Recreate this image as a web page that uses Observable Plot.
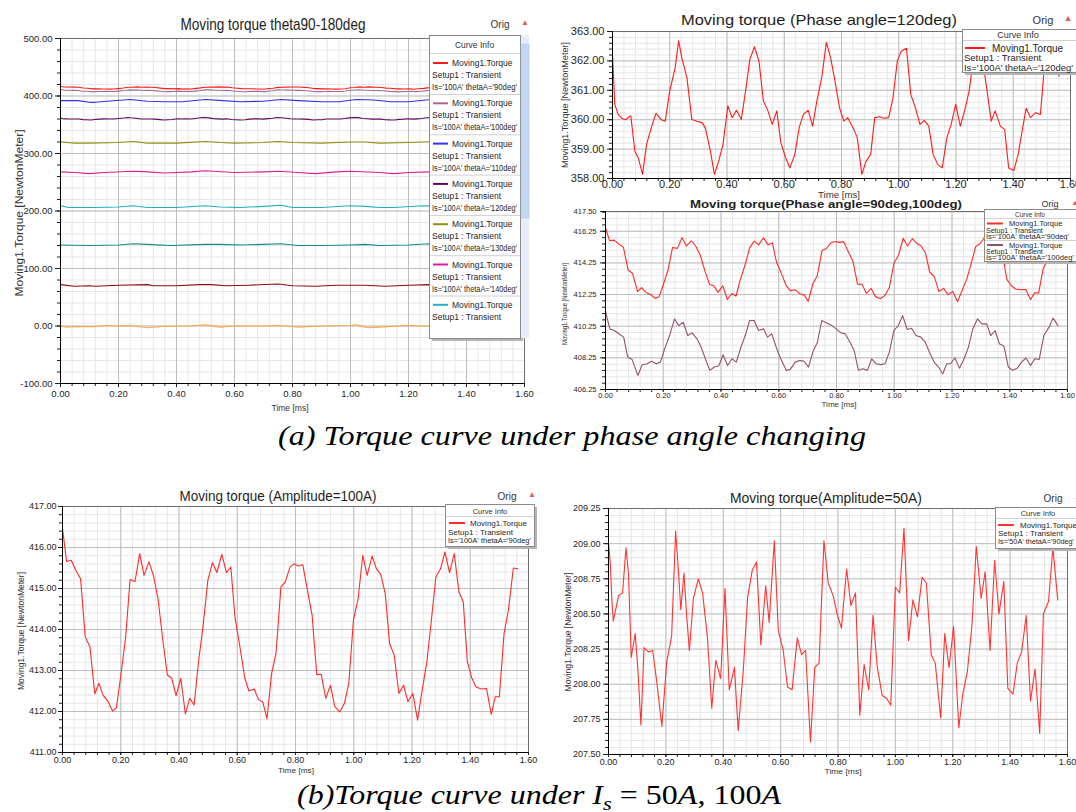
<!DOCTYPE html>
<html><head><meta charset="utf-8">
<script src="https://cdn.jsdelivr.net/npm/d3@7"></script>
<script src="https://cdn.jsdelivr.net/npm/@observablehq/plot@0.6"></script>
<style>
html,body{margin:0;padding:0;background:#fff;overflow:hidden;}
#fig{position:relative;width:1076px;height:812px;overflow:hidden;background:#fff;}
</style></head><body><div id="fig"></div>
<script>
// ---------------- DATA ----------------
const timeTicks = [0, 0.2, 0.4, 0.6, 0.8, 1.0, 1.2, 1.4, 1.6];
const yTicksA = [-100, 0, 100, 200, 300, 400, 500];
const yTicksB = [358, 359, 360, 361, 362, 363];
const yTicksC = [406.25, 408.25, 410.25, 412.25, 414.25, 416.25, 417.5];
const yTicksD = [411, 412, 413, 414, 415, 416, 417];
const yTicksE = [207.5, 207.75, 208, 208.25, 208.5, 208.75, 209, 209.25];

// Is=100A, thetaA=90deg  [time ms, torque N*m]
const torque90 = [[0,416.46],[0.014,415.66],[0.03,415.69],[0.046,415.44],[0.062,415.24],[0.078,413.82],[0.094,413.58],[0.111,412.43],[0.125,412.69],[0.139,412.40],[0.157,412.24],[0.172,412.01],[0.185,412.09],[0.199,412.81],[0.217,413.82],[0.232,415.22],[0.249,415.17],[0.265,415.85],[0.28,415.32],[0.297,415.65],[0.312,415.32],[0.328,414.75],[0.345,413.70],[0.36,412.89],[0.375,412.81],[0.39,412.39],[0.406,412.81],[0.422,411.94],[0.437,412.32],[0.452,412.16],[0.467,413.21],[0.483,414.10],[0.499,415.20],[0.515,415.63],[0.53,415.39],[0.547,415.83],[0.563,415.39],[0.578,415.52],[0.592,414.31],[0.61,413.54],[0.626,412.81],[0.64,412.50],[0.658,412.55],[0.673,412.29],[0.688,412.23],[0.702,411.82],[0.718,412.93],[0.733,413.42],[0.75,415.04],[0.765,415.16],[0.781,415.52],[0.795,415.60],[0.809,415.55],[0.825,415.58],[0.84,414.99],[0.857,414.35],[0.873,412.90],[0.888,412.91],[0.904,412.32],[0.92,412.64],[0.935,412.12],[0.952,411.99],[0.968,412.20],[0.983,412.69],[0.999,414.23],[1.015,414.75],[1.031,415.81],[1.046,415.32],[1.063,415.79],[1.078,415.48],[1.093,415.34],[1.108,414.88],[1.123,413.66],[1.139,413.37],[1.155,412.44],[1.171,412.64],[1.186,412.24],[1.203,412.44],[1.219,411.79],[1.234,412.48],[1.251,413.21],[1.266,414.19],[1.282,415.28],[1.298,415.48],[1.313,415.89],[1.329,415.39],[1.345,415.85],[1.361,414.92],[1.376,414.67],[1.39,413.21],[1.405,412.82],[1.42,412.60],[1.438,412.55],[1.456,412.56],[1.472,411.93],[1.486,412.36],[1.5,412.36],[1.516,413.90],[1.531,414.47],[1.548,415.50],[1.563,415.48]];

// Is=100A, thetaA=100deg
const torque100 = [[0,411.18],[0.015,410.08],[0.031,409.98],[0.046,409.77],[0.063,409.56],[0.077,408.30],[0.092,408.15],[0.112,407.14],[0.127,407.81],[0.144,407.88],[0.159,408.03],[0.176,407.88],[0.19,407.98],[0.207,408.93],[0.222,409.66],[0.239,410.71],[0.254,410.29],[0.269,410.50],[0.285,409.66],[0.3,409.83],[0.317,409.45],[0.331,408.93],[0.346,408.19],[0.361,407.46],[0.377,407.67],[0.392,407.73],[0.407,408.45],[0.423,407.77],[0.438,408.19],[0.453,407.98],[0.469,408.93],[0.484,409.66],[0.499,410.61],[0.515,410.61],[0.53,409.98],[0.548,410.08],[0.561,409.56],[0.576,409.77],[0.594,408.78],[0.607,408.19],[0.626,407.46],[0.64,407.52],[0.657,407.98],[0.672,408.09],[0.688,408.03],[0.703,407.67],[0.72,408.72],[0.734,409.24],[0.749,410.61],[0.766,410.46],[0.784,410.29],[0.799,410.08],[0.815,409.83],[0.83,409.77],[0.847,409.24],[0.861,408.72],[0.876,407.46],[0.891,407.56],[0.907,407.46],[0.922,408.19],[0.937,407.88],[0.953,407.82],[0.968,407.88],[0.983,408.61],[0.999,409.98],[1.014,410.29],[1.029,410.92],[1.045,410.04],[1.06,410.12],[1.075,409.66],[1.092,409.56],[1.107,409.24],[1.122,408.61],[1.138,407.98],[1.153,407.67],[1.168,407.25],[1.182,407.88],[1.195,407.88],[1.21,408.24],[1.226,407.60],[1.242,408.19],[1.257,408.93],[1.272,410.08],[1.288,410.71],[1.303,410.40],[1.32,410.40],[1.334,409.66],[1.349,409.98],[1.364,409.14],[1.38,408.99],[1.395,407.67],[1.41,407.46],[1.426,407.60],[1.441,407.98],[1.456,408.24],[1.472,407.77],[1.487,408.19],[1.502,408.15],[1.518,409.66],[1.536,410.19],[1.55,410.76],[1.567,410.29]];

// Is=100A, thetaA=120deg
const torque120 = [[0,362.23],[0.008,360.52],[0.02,360.18],[0.032,360.05],[0.047,360.00],[0.058,360.10],[0.064,360.13],[0.078,358.93],[0.09,358.70],[0.105,358.14],[0.119,359.16],[0.137,359.78],[0.152,360.22],[0.169,360.01],[0.184,359.95],[0.2,360.98],[0.219,361.77],[0.231,362.68],[0.242,362.11],[0.26,361.43],[0.277,360.01],[0.295,359.95],[0.313,359.90],[0.324,359.73],[0.342,358.93],[0.356,358.14],[0.371,358.59],[0.386,359.16],[0.403,360.47],[0.418,360.07],[0.433,360.32],[0.45,360.01],[0.465,360.98],[0.48,362.06],[0.496,362.48],[0.512,361.98],[0.527,360.64],[0.543,360.30],[0.558,359.84],[0.574,360.30],[0.588,359.22],[0.605,358.70],[0.62,358.36],[0.637,358.82],[0.652,359.73],[0.667,360.18],[0.684,360.32],[0.699,359.78],[0.714,360.64],[0.731,361.43],[0.747,362.63],[0.763,362.06],[0.777,361.32],[0.793,360.41],[0.808,359.95],[0.822,360.07],[0.84,359.73],[0.855,359.39],[0.871,358.14],[0.886,358.59],[0.902,358.82],[0.916,360.07],[0.933,360.10],[0.948,360.05],[0.965,360.07],[0.98,360.75],[0.995,362.00],[1.009,362.34],[1.027,362.43],[1.042,360.86],[1.058,360.41],[1.074,359.84],[1.089,359.98],[1.105,359.78],[1.12,358.82],[1.136,358.48],[1.152,358.36],[1.168,359.39],[1.183,359.84],[1.199,360.52],[1.215,359.78],[1.23,360.30],[1.246,360.98],[1.261,362.11],[1.279,362.68],[1.302,361.43],[1.323,359.95],[1.337,360.30],[1.355,359.78],[1.37,359.67],[1.384,358.36],[1.402,358.27],[1.417,358.82],[1.431,359.61],[1.445,360.39],[1.46,360.07],[1.478,360.24],[1.495,360.18],[1.507,361.60],[1.522,362.30],[1.538,361.80],[1.56,361.49]];

const torque110 = [[0,392],[0.06,392],[0.1,389],[0.12,389],[0.16,391],[0.24,394],[0.3,391],[0.36,390],[0.42,390],[0.5,394],[0.56,392],[0.62,390],[0.7,391],[0.76,394],[0.82,392],[0.9,390],[0.96,390],[1.02,394],[1.08,393],[1.14,390],[1.2,390],[1.26,393],[1.3,394],[1.36,391],[1.42,390],[1.5,391],[1.56,394]];
const torque130 = [[0,320],[0.05,318],[0.1,318],[0.2,319],[0.25,321],[0.3,318],[0.4,318],[0.5,321],[0.55,319],[0.6,318],[0.7,319],[0.75,321],[0.8,319],[0.9,318],[1.0,320],[1.05,320],[1.1,318],[1.2,319],[1.25,320],[1.3,321],[1.4,319],[1.5,320],[1.56,321]];
const torque140 = [[0,268],[0.05,267],[0.1,265],[0.15,267],[0.25,269],[0.3,268],[0.36,266],[0.45,268],[0.5,270],[0.6,267],[0.7,268],[0.75,269],[0.82,267],[0.88,265],[0.95,268],[1.0,269],[1.1,267],[1.15,265],[1.2,267],[1.27,268],[1.35,269],[1.45,266],[1.56,268]];
const torque150 = [[0,209],[0.03,206],[0.12,206],[0.2,207],[0.25,209],[0.3,206],[0.4,206],[0.5,209],[0.55,207],[0.62,206],[0.7,208],[0.76,210],[0.8,206],[0.9,206],[1.0,209],[1.05,208],[1.1,206],[1.15,206],[1.25,209],[1.3,209],[1.4,206],[1.5,208],[1.56,209]];
const torque160 = [[0,141],[0.1,140],[0.2,141],[0.25,143],[0.3,142],[0.38,140],[0.5,142],[0.55,142],[0.62,141],[0.7,142],[0.76,143],[0.82,140],[0.9,140],[1.0,141],[1.05,142],[1.1,140],[1.2,141],[1.27,143],[1.35,142],[1.45,140],[1.56,142]];
const torque170 = [[0,72],[0.05,69],[0.1,70],[0.12,69],[0.2,71],[0.3,72],[0.32,70],[0.4,70],[0.48,72],[0.52,72],[0.57,70],[0.65,71],[0.75,73],[0.8,70],[0.88,69],[0.95,71],[1.05,71],[1.12,69],[1.2,71],[1.27,72],[1.35,71],[1.45,70],[1.56,72]];
const torque180 = [[0,0],[0.02,-2],[0.06,-1],[0.12,-1],[0.16,1],[0.2,0],[0.24,1],[0.3,-3],[0.35,-1],[0.45,0],[0.5,2],[0.55,-2],[0.6,0],[0.7,0],[0.75,1],[0.8,-1],[0.82,-2],[0.9,0],[1.0,1],[1.02,2],[1.06,-3],[1.1,-2],[1.2,1],[1.25,0],[1.35,1],[1.45,-1],[1.56,0]];

// Is=50A, thetaA=90deg
const torque50A = [[0,209.01],[0.006,208.87],[0.012,208.59],[0.017,208.45],[0.026,208.54],[0.035,208.63],[0.049,208.65],[0.061,208.97],[0.07,208.78],[0.079,208.19],[0.093,208.36],[0.102,208.12],[0.113,207.71],[0.124,208.26],[0.139,208.23],[0.154,208.24],[0.168,208.02],[0.186,207.70],[0.203,208.16],[0.22,208.34],[0.234,209.09],[0.244,208.80],[0.252,208.53],[0.263,208.79],[0.273,208.47],[0.282,208.24],[0.296,208.61],[0.313,208.75],[0.328,208.65],[0.345,208.33],[0.36,207.83],[0.374,208.17],[0.391,208.04],[0.406,208.68],[0.421,207.96],[0.439,208.12],[0.452,207.67],[0.47,208.10],[0.485,208.62],[0.501,208.81],[0.516,208.87],[0.531,208.28],[0.548,208.70],[0.56,208.44],[0.578,209.02],[0.592,208.38],[0.609,208.24],[0.624,207.98],[0.64,207.96],[0.658,208.33],[0.673,208.21],[0.687,208.24],[0.704,207.59],[0.719,208.12],[0.734,208.15],[0.751,209.02],[0.766,208.72],[0.783,208.63],[0.798,208.49],[0.812,208.40],[0.83,208.82],[0.845,208.56],[0.861,208.65],[0.876,207.78],[0.891,208.14],[0.907,207.96],[0.922,208.49],[0.937,208.12],[0.954,207.92],[0.969,207.90],[0.984,207.85],[1.0,208.69],[1.015,208.65],[1.03,209.11],[1.046,208.31],[1.061,208.60],[1.077,208.48],[1.093,208.76],[1.108,208.72],[1.125,208.21],[1.139,208.15],[1.158,207.76],[1.172,208.36],[1.187,208.12],[1.203,208.41],[1.221,207.69],[1.235,207.93],[1.251,208.09],[1.267,208.42],[1.282,208.98],[1.299,208.61],[1.313,208.80],[1.33,208.24],[1.346,208.88],[1.361,208.50],[1.378,208.73],[1.392,207.97],[1.41,207.93],[1.425,208.15],[1.44,208.23],[1.456,208.49],[1.471,207.88],[1.487,208.11],[1.503,207.65],[1.516,208.50],[1.534,208.59],[1.549,208.97],[1.566,208.60]];

const anglesA = ["90deg","100deg","110deg","120deg","130deg","140deg","150deg","160deg","170deg","180deg"];
const colorsA = ["#ff1a1a","#a86a8a","#3030ee","#5c0a5c","#8f8f10","#e8189c","#22aec6","#138a8a","#8e0c0c","#ffa646"];
const seriesA = [torque90, torque100, torque110, torque120, torque130, torque140, torque150, torque160, torque170, torque180];

// ---------------- DRAWING ----------------
const FONT = "'Liberation Sans', Arial, sans-serif";
const SERIF = "'Liberation Serif', 'Times New Roman', serif";
const fig = document.getElementById("fig");
const fmt2 = d => d.toFixed(2);

function panel(p) {
  const minorX = d3.range(0, 1.6 + 1e-9, 0.04);
  const minorY = d3.range(p.yDomain[0], p.yDomain[1] + 1e-9, p.yMinor);
  const lines = p.series.map(s => Plot.line(s.data, {x: d => d[0], y: d => d[1], stroke: s.color, strokeWidth: 1.1, clip: true}));
  const chart = Plot.plot({
    width: p.svgW, height: p.svgH,
    marginLeft: p.L - p.svgX, marginTop: p.T - p.svgY,
    marginRight: p.svgX + p.svgW - p.R, marginBottom: p.svgY + p.svgH - p.B,
    style: {fontFamily: FONT, fontSize: p.fs + "px", background: "transparent", color: "#1e1e1e", overflow: "visible"},
    x: {domain: [0, 1.6]},
    y: {domain: p.yDomain},
    marks: [
      Plot.gridX(minorX, {stroke: "#e6e6e6", strokeOpacity: 1}),
      Plot.gridY(minorY, {stroke: "#e6e6e6", strokeOpacity: 1}),
      Plot.gridX(timeTicks, {stroke: "#bebebe", strokeOpacity: 1}),
      Plot.gridY(p.yTicks, {stroke: "#bebebe", strokeOpacity: 1}),
      Plot.frame({stroke: "#6e6e6e"}),
      ...lines,
      Plot.axisX(minorX, {tickSize: 3, fill: "none", label: null}),
      Plot.axisX(timeTicks, {tickSize: p.xTick, tickPadding: p.xPad, tickFormat: fmt2, label: null}),
      Plot.axisY(minorY, {tickSize: 3, fill: "none", label: null}),
      Plot.axisY(p.yTicks, {tickSize: p.yTick, tickPadding: p.yPad, tickFormat: fmt2, label: null}),
      Plot.ruleX([0], {stroke: "#000"}),
      Plot.ruleY([p.yDomain[0]], {stroke: "#000"})
    ]
  });
  chart.style.position = "absolute";
  chart.style.left = p.svgX + "px";
  chart.style.top = p.svgY + "px";
  chart.style.maxWidth = "none";
  fig.appendChild(chart);
}

panel({svgX: 0, svgY: 30, svgW: 545, svgH: 385, L: 60, T: 38, R: 524, B: 383, fs: 9.5,
  yDomain: [-100, 500], yTicks: yTicksA, yMinor: 20, xTick: 4, xPad: 3, yTick: 5, yPad: 3,
  series: seriesA.map((d, i) => ({data: d, color: colorsA[i]})).reverse()});
panel({svgX: 548, svgY: 10, svgW: 528, svgH: 190, L: 612, T: 31, R: 1070, B: 178, fs: 11,
  yDomain: [358, 363], yTicks: yTicksB, yMinor: 0.2, xTick: 2, xPad: 0, yTick: 5, yPad: 3,
  series: [{data: torque120, color: "#ff1a1a"}]});
panel({svgX: 548, svgY: 200, svgW: 528, svgH: 210, L: 605, T: 211, R: 1067, B: 389, fs: 7.5,
  yDomain: [406.25, 417.5], yTicks: yTicksC, yMinor: 0.4, xTick: 2, xPad: 1, yTick: 5, yPad: 4,
  series: [{data: torque100, color: "#94506f"}, {data: torque90, color: "#ff2a2a"}]});
panel({svgX: 0, svgY: 490, svgW: 545, svgH: 290, L: 62, T: 506, R: 528, B: 752, fs: 9,
  yDomain: [411, 417], yTicks: yTicksD, yMinor: 0.2, xTick: 3, xPad: 1, yTick: 4, yPad: 2,
  series: [{data: torque90, color: "#ff2a2a"}]});
panel({svgX: 548, svgY: 490, svgW: 528, svgH: 290, L: 608, T: 508, R: 1067, B: 754, fs: 9,
  yDomain: [207.5, 209.25], yTicks: yTicksE, yMinor: 0.05, xTick: 3, xPad: 1, yTick: 5, yPad: 3,
  series: [{data: torque50A, color: "#ff3333"}]});

// ---------------- OVERLAY (titles, legends, captions) ----------------
const ov = d3.select(fig).append("svg").attr("width", 1076).attr("height", 812)
  .style("position", "absolute").style("left", "0px").style("top", "0px");

function T(x, y, s, o = {}) {
  const t = ov.append("text").attr("x", x).attr("y", y)
    .attr("font-family", o.family || FONT).attr("font-size", o.size || 9)
    .attr("fill", o.fill || "#1e1e1e").attr("text-anchor", o.anchor || "start")
    .attr("dominant-baseline", o.baseline || "central");
  if (o.weight) t.attr("font-weight", o.weight);
  if (o.style) t.attr("font-style", o.style);
  if (o.len) t.attr("textLength", o.len).attr("lengthAdjust", "spacingAndGlyphs");
  if (o.rotate) t.attr("transform", `rotate(${o.rotate},${x},${y})`);
  t.text(s);
  return t;
}

// panel titles
T(273, 24, "Moving torque theta90-180deg", {size: 17, anchor: "middle", len: 185});
T(819, 20, "Moving torque (Phase angle=120deg)", {size: 14.5, anchor: "middle", len: 276});
T(826, 204, "Moving torque(Phase angle=90deg,100deg)", {size: 11.5, weight: "bold", anchor: "middle", len: 272});
T(278, 496, "Moving torque (Amplitude=100A)", {size: 14, anchor: "middle", len: 197});
T(826, 498, "Moving torque(Amplitude=50A)", {size: 14, anchor: "middle", len: 192});

// "Orig" + marker
function orig(x, y, s) {
  T(x, y, "Orig", {size: s, anchor: "middle", fill: "#333"});
  T(x + 25, y - 2, "\u25B2", {size: s * 0.8, anchor: "middle", fill: "#e05a5a"});
}
orig(500, 24, 10); orig(1043, 20, 11); orig(1050, 204, 9); orig(507, 496, 10); orig(1053, 498, 10);

// axis titles
const YLAB = "Moving1.Torque [NewtonMeter]";
T(19, 213, YLAB, {size: 10.5, anchor: "middle", rotate: -90, len: 167, fill: "#333"});
T(565, 105, YLAB, {size: 9, anchor: "middle", rotate: -90, len: 126, fill: "#333"});
T(564, 304, YLAB, {size: 7, anchor: "middle", rotate: -90, len: 82, fill: "#333"});
T(21, 631, YLAB, {size: 8.5, anchor: "middle", rotate: -90, len: 118, fill: "#333"});
T(568, 632, YLAB, {size: 8.5, anchor: "middle", rotate: -90, len: 119, fill: "#333"});
T(290, 407, "Time [ms]", {size: 9.5, anchor: "middle", len: 37, fill: "#333"});
T(839, 194.5, "Time [ms]", {size: 9, anchor: "middle", len: 42, fill: "#333"});
T(839, 404, "Time [ms]", {size: 7, anchor: "middle", len: 35, fill: "#333"});
T(296, 770, "Time [ms]", {size: 8, anchor: "middle", len: 36, fill: "#333"});
T(843, 771, "Time [ms]", {size: 8, anchor: "middle", len: 37, fill: "#333"});

// legends
function legendBox(x, y, w, h) {
  ov.append("rect").attr("x", x + 3).attr("y", y + 3).attr("width", w).attr("height", h).attr("fill", "#b4b4b4");
  ov.append("rect").attr("x", x + 0.5).attr("y", y + 0.5).attr("width", w).attr("height", h)
    .attr("fill", "#fff").attr("stroke", "#8c8c8c");
}
function hline(x1, x2, y, c = "#d0d0d0") {
  ov.append("line").attr("x1", x1).attr("x2", x2).attr("y1", y + 0.5).attr("y2", y + 0.5).attr("stroke", c);
}
function sample(x1, x2, y, color) {
  ov.append("line").attr("x1", x1).attr("x2", x2).attr("y1", y).attr("y2", y).attr("stroke", color).attr("stroke-width", 2);
}

// Panel A legend (scrolled list of curves)
legendBox(429, 35, 91, 303);
ov.append("rect").attr("x", 521).attr("y", 35).attr("width", 8).attr("height", 303).attr("fill", "#e3ecf7");
ov.append("rect").attr("x", 521).attr("y", 44).attr("width", 8).attr("height", 174).attr("fill", "#c3d7f0").attr("stroke", "#a8c2e6").attr("stroke-width", 0.5);
T(474.5, 45, "Curve Info", {size: 8.5, anchor: "middle", fill: "#333"});
hline(430, 520, 53);
for (let k = 0; k < 7; k++) {
  const top = 54 + 40.3 * k;
  sample(433, 448, top + 9, colorsA[k]);
  T(452, top + 9, "Moving1.Torque", {size: 8.5});
  T(432, top + 21, "Setup1 : Transient", {size: 8.5});
  if (k < 6) {
    T(432, top + 33, `Is='100A' thetaA='${anglesA[k]}'`, {size: 8.5, len: 85});
    hline(430, 520, top + 40);
  }
}

// Panel B legend
legendBox(962, 29, 120, 43);
T(1018, 35, "Curve Info", {size: 9, anchor: "middle", fill: "#333"});
hline(963, 1076, 40);
sample(965, 985, 48, "#ff1a1a");
T(992, 48, "Moving1.Torque", {size: 10});
T(964, 57, "Setup1 : Transient", {size: 9.5});
T(964, 67, "Is='100A' thetaA='120deg'", {size: 9.5, len: 109});

// Panel C legend
legendBox(984, 209, 100, 52);
T(1030, 214, "Curve Info", {size: 6.5, anchor: "middle", fill: "#333"});
hline(985, 1076, 218);
sample(987, 1003, 223.5, "#ff2a2a");
T(1009, 223.5, "Moving1.Torque", {size: 7.5});
T(986, 230, "Setup1 : Transient", {size: 7});
T(986, 236.5, "Is='100A' thetaA='90deg'", {size: 7, len: 83});
hline(985, 1076, 240);
sample(987, 1003, 245, "#94506f");
T(1009, 245, "Moving1.Torque", {size: 7.5});
T(986, 251, "Setup1 : Transient", {size: 7});
T(986, 257.5, "Is='100A' thetaA='100deg'", {size: 7, len: 88});

// Panel D legend
legendBox(445, 504, 89, 42);
T(490, 511, "Curve Info", {size: 7.5, anchor: "middle", fill: "#333"});
hline(446, 534, 516);
sample(449, 465, 523, "#ff2a2a");
T(470, 523, "Moving1.Torque", {size: 8});
T(448, 532, "Setup1 : Transient", {size: 8});
T(448, 540, "Is='100A' thetaA='90deg'", {size: 8, len: 83});

// Panel E legend
legendBox(995, 507, 90, 41);
T(1038, 513, "Curve Info", {size: 7.5, anchor: "middle", fill: "#333"});
hline(996, 1076, 518);
sample(998, 1014, 525, "#ff3333");
T(1020, 525, "Moving1.Torque", {size: 8});
T(998, 533, "Setup1 : Transient", {size: 8});
T(998, 541, "Is='50A' thetaA='90deg'", {size: 8, len: 76});

// captions
T(572, 445, "(a) Torque curve under phase angle changing",
  {family: SERIF, style: "italic", size: 28, anchor: "middle", baseline: "alphabetic", len: 588, fill: "#000"});
const cb = ov.append("text").attr("x", 297).attr("y", 804)
  .attr("font-family", SERIF).attr("font-size", 27).attr("fill", "#000")
  .attr("textLength", 484).attr("lengthAdjust", "spacingAndGlyphs");
cb.append("tspan").attr("font-style", "italic").text("(b)Torque curve under ");
cb.append("tspan").attr("font-style", "italic").text("I");
cb.append("tspan").attr("font-style", "italic").attr("font-size", 19).attr("dy", 6).text("s");
cb.append("tspan").attr("dy", -6).text(" = 50");
cb.append("tspan").attr("font-style", "italic").text("A");
cb.append("tspan").text(", 100");
cb.append("tspan").attr("font-style", "italic").text("A");
</script></body></html>
